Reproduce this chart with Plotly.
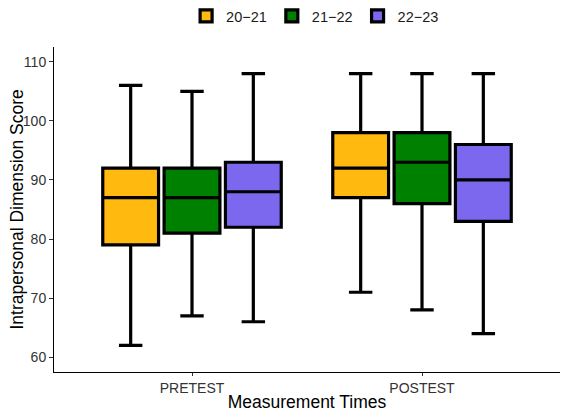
import plotly.graph_objects as go

times = ["PRETEST", "POSTEST"]
series_names = ["20−21", "21−22", "22−23"]
colors = ["#FFB90F", "#008000", "#7B68EE"]

lower = [[62, 71], [67, 68], [66, 64]]
q1 = [[79, 87], [81, 86], [82, 83]]
median = [[87, 92], [87, 93], [88, 90]]
q3 = [[92, 98], [92, 98], [93, 96]]
upper = [[106, 108], [105, 108], [108, 108]]

y_ticks = [60, 70, 80, 90, 100, 110]

fig = go.Figure()
for i, name in enumerate(series_names):
    fig.add_trace(go.Box(
        name=name,
        x=times,
        q1=q1[i], median=median[i], q3=q3[i],
        lowerfence=lower[i], upperfence=upper[i],
        fillcolor=colors[i],
        line=dict(color="black", width=3.2),
        whiskerwidth=0.42,
        boxpoints=False,
        hoverinfo="skip",
    ))

font_family = "Liberation Sans, Arial, sans-serif"
fig.update_layout(
    width=567, height=412,
    margin=dict(l=54, r=7, t=47, b=40, autoexpand=False),
    paper_bgcolor="white", plot_bgcolor="white",
    boxmode="group", boxgap=0.2, boxgroupgap=0.09,
    font=dict(family=font_family, size=14, color="black"),
    showlegend=True,
    legend=dict(orientation="h", x=0.516, xanchor="center", y=1.0, yanchor="top",
                yref="container", font=dict(size=14.5, color="#1a1a1a"),
                itemwidth=30, traceorder="normal"),
    xaxis=dict(range=[-0.6, 1.6], showline=True, linecolor="black", linewidth=1,
               ticks="outside", ticklen=3, tickcolor="#333333", showgrid=False, zeroline=False,
               automargin=False,
               tickfont=dict(size=14, color="#333333"),
               title=dict(text="Measurement Times", font=dict(size=17.5, color="black"), standoff=2)),
    yaxis=dict(range=[57.5, 112.5], tickvals=y_ticks, showline=True, linecolor="black", linewidth=1,
               ticks="outside", ticklen=4, tickcolor="#333333", showgrid=False, zeroline=False,
               automargin=False,
               tickfont=dict(size=14, color="#333333")),
    annotations=[dict(text="Intrapersonal Dimension Score", textangle=-90,
                      xref="paper", yref="paper", x=-0.075, y=0.5,
                      xanchor="center", yanchor="middle", showarrow=False,
                      font=dict(size=17.5, color="black"))],
)

fig.write_html("out.html")
